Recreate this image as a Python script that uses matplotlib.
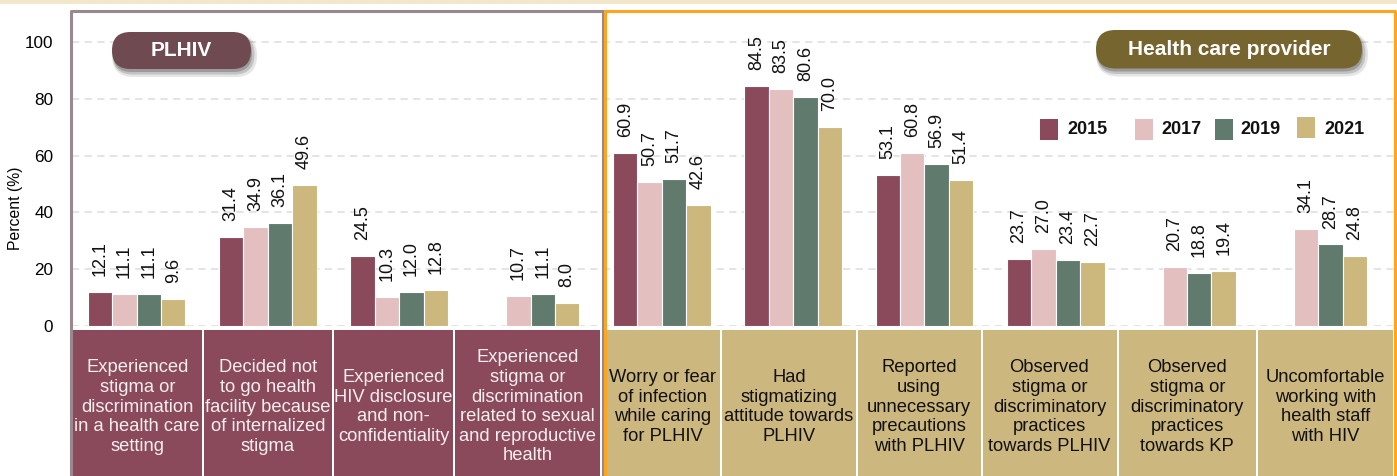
import numpy as np
import matplotlib
matplotlib.use("Agg")
import matplotlib.pyplot as plt
import matplotlib.transforms as mtransforms
from matplotlib.patches import Rectangle, FancyBboxPatch

plt.rcParams['font.family'] = ['Liberation Sans', 'DejaVu Sans']

# ---------------- data ----------------
categories = [
    "Experienced\nstigma or\ndiscrimination\nin a health care\nsetting",
    "Decided not\nto go health\nfacility because\nof internalized\nstigma",
    "Experienced\nHIV disclosure\nand non-\nconfidentiality",
    "Experienced\nstigma or\ndiscrimination\nrelated to sexual\nand reproductive\nhealth",
    "Worry or fear\nof infection\nwhile caring\nfor PLHIV",
    "Had\nstigmatizing\nattitude towards\nPLHIV",
    "Reported\nusing\nunnecessary\nprecautions\nwith PLHIV",
    "Observed\nstigma or\ndiscriminatory\npractices\ntowards PLHIV",
    "Observed\nstigma or\ndiscriminatory\npractices\ntowards KP",
    "Uncomfortable\nworking with\nhealth staff\nwith HIV",
]
years = ["2015", "2017", "2019", "2021"]
v2015 = [12.1, 31.4, 24.5, None, 60.9, 84.5, 53.1, 23.7, None, None]
v2017 = [11.1, 34.9, 10.3, 10.7, 50.7, 83.5, 60.8, 27.0, 20.7, 34.1]
v2019 = [11.1, 36.1, 12.0, 11.1, 51.7, 80.6, 56.9, 23.4, 18.8, 28.7]
v2021 = [9.6, 49.6, 12.8, 8.0, 42.6, 70.0, 51.4, 22.7, 19.4, 24.8]
series = [v2015, v2017, v2019, v2021]
colors = ["#8B4A5C", "#E4BFC0", "#607B6D", "#CCB77C"]
yticks = [0, 20, 40, 60, 80, 100]
panel_titles = ["PLHIV", "Health care provider"]

W, H = 1397, 476
fig = plt.figure(figsize=(W / 100, H / 100), dpi=100)
fig.patch.set_facecolor("white")

# pixel transform (x from left, y from top)
px = mtransforms.Affine2D().scale(1 / W, -1 / H).translate(0, 1) + fig.transFigure

def fx(x):
    return x / W

def fy(y):
    return 1 - y / H

# axes
ax_l, ax_r, ax_t, ax_b = 72, 1397, 11, 326
ax = fig.add_axes([fx(ax_l), fy(ax_b), (ax_r - ax_l) / W, (ax_b - ax_t) / H])
ax.set_facecolor("none")
ax.set_xlim(-0.492, 9.599)
ax.set_ylim(0, 110.9)
for s in ax.spines.values():
    s.set_visible(False)
ax.set_xticks([])
ax.set_yticks(yticks)
ax.set_yticklabels([str(t) for t in yticks], fontsize=12.3)
ax.tick_params(axis="y", length=0, pad=13.5)
for t in yticks:
    ax.axhline(t, color="#E2E2E2", lw=1.3, ls=(0, (4, 3)), zorder=0)

bw = 0.186
x = np.arange(len(categories))
for k, (vals, c) in enumerate(zip(series, colors)):
    off = (k - 1.5) * bw
    for i, v in enumerate(vals):
        if v is None:
            continue
        ax.bar(x[i] + off, v, width=bw, color=c, edgecolor="white", linewidth=0.8, zorder=2)
        ax.annotate(f"{v:.1f}", (x[i] + off, v), xytext=(0, 11.5), textcoords="offset points",
                    rotation=90, ha="center", va="bottom", fontsize=13, color="#111111")

fig.text(fx(16), fy(208), "Percent (%)", rotation=90, ha="center", va="center", fontsize=11.3)

# top beige band
fig.patches.append(Rectangle((0, 0), W, 3.5, transform=px, facecolor="#F2E6CB", edgecolor="none"))

# category boxes
left_boxes = [(72.5, 202), (204, 332), (334, 453), (455, 600)]
right_boxes = [(605.5, 720), (722, 856), (858, 980.5), (982.5, 1116.5), (1118.5, 1256), (1258, 1393)]
box_top, box_bot = 329.5, 480
for i, (a, b) in enumerate(left_boxes + right_boxes):
    left_side = i < 4
    fc = "#8B4A5C" if left_side else "#CCB77F"
    tc = "#F4EFEF" if left_side else "#111111"
    fig.patches.append(Rectangle((a, box_top), b - a, box_bot - box_top, transform=px,
                                 facecolor=fc, edgecolor="none"))
    fig.text(fx((a + b) / 2), fy(407), categories[i], ha="center", va="center",
             fontsize=13.2, color=tc, linespacing=1.2)

# panel frames
fig.lines.append(plt.Line2D([71, 71, 602.5, 602.5], [480, 11, 11, 480], transform=px,
                            color="#988890", lw=2.2))
fig.lines.append(plt.Line2D([604.5, 604.5, 1394.5, 1394.5], [480, 11, 11, 480], transform=px,
                            color="#FFA51F", lw=2.2))

# badges
def badge(x0, y0, x1, y1, color, text):
    h = y1 - y0
    for dx, dy, al, grow in [(3, 5, 0.10, 3), (2, 4, 0.15, 1.5), (1, 3, 0.2, 0)]:
        fig.patches.append(FancyBboxPatch((x0 + dx - grow, y0 + dy - grow), x1 - x0 + 2 * grow, h + 2 * grow,
                                          boxstyle=f"round,pad=0,rounding_size={h / 2 + grow}",
                                          transform=px, facecolor="black", edgecolor="none", alpha=al))
    fig.patches.append(FancyBboxPatch((x0, y0), x1 - x0, h,
                                      boxstyle=f"round,pad=0,rounding_size={h / 2}",
                                      transform=px, facecolor=color, edgecolor="none"))
    fig.text(fx((x0 + x1) / 2), fy((y0 + y1) / 2), text, ha="center", va="center",
             fontsize=15, fontweight="bold", color="white")

badge(112, 32, 251, 69, "#6F4A51", panel_titles[0])
badge(1096, 30, 1362, 68.5, "#77652F", panel_titles[1])

# legend
sq = [1040, 1135, 1215, 1297]
tx = [1067, 1161.5, 1240.5, 1324]
for k in range(4):
    top = 117 if k == 3 else 119
    fig.patches.append(Rectangle((sq[k], top), 17.7, 20.7, transform=px, facecolor=colors[k], edgecolor="none"))
    fig.text(fx(tx[k]), fy(129.5), years[k], ha="left", va="center", fontsize=13,
             fontweight="bold", color="#111111")

fig.savefig("out.png", dpi=100)
